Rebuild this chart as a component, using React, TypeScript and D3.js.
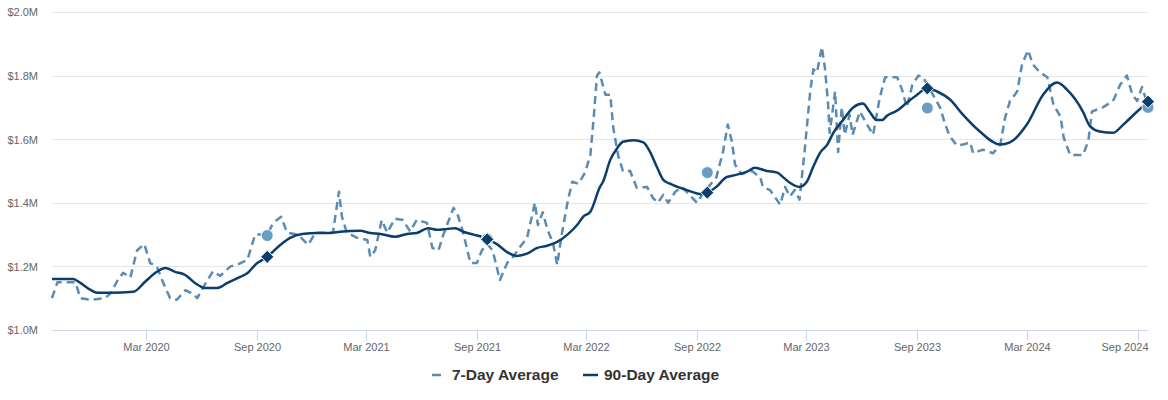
import React, { useEffect, useRef } from "react";
import * as d3 from "d3";

// 7-day rolling average (in $M)
const sevenDayDates = [
  "2019-09-27", "2019-10-06", "2019-10-21", "2019-11-05", "2019-11-13", "2019-11-30", "2019-12-24",
  "2020-01-02", "2020-01-15", "2020-01-23", "2020-02-04", "2020-02-15", "2020-02-27", "2020-03-08",
  "2020-03-19", "2020-03-29", "2020-04-10", "2020-04-21", "2020-05-05", "2020-05-17", "2020-05-25",
  "2020-06-04", "2020-06-20", "2020-07-02", "2020-07-19", "2020-07-30", "2020-08-16", "2020-08-29",
  "2020-09-18", "2020-09-28", "2020-10-11", "2020-10-21", "2020-11-08", "2020-11-25", "2020-12-07",
  "2021-01-05", "2021-01-15", "2021-01-20", "2021-01-28", "2021-02-14", "2021-03-03", "2021-03-08",
  "2021-03-16", "2021-03-27", "2021-04-05", "2021-04-18", "2021-05-01", "2021-05-13", "2021-05-24",
  "2021-06-10", "2021-06-19", "2021-06-29", "2021-07-07", "2021-07-24", "2021-07-30", "2021-08-09",
  "2021-08-21", "2021-09-01", "2021-09-09", "2021-09-18", "2021-09-27", "2021-10-09", "2021-10-21",
  "2021-10-31", "2021-11-11", "2021-11-23", "2021-12-06", "2021-12-11", "2021-12-19", "2021-12-27",
  "2022-01-05", "2022-01-12", "2022-01-20", "2022-01-30", "2022-02-06", "2022-02-16", "2022-02-27",
  "2022-03-08", "2022-03-13", "2022-03-19", "2022-03-23", "2022-04-02", "2022-04-10", "2022-04-15",
  "2022-04-23", "2022-05-01", "2022-05-13", "2022-05-24", "2022-06-10", "2022-06-20", "2022-06-28",
  "2022-07-07", "2022-07-15", "2022-07-27", "2022-08-07", "2022-08-17", "2022-09-01", "2022-09-11",
  "2022-10-03", "2022-10-14", "2022-10-22", "2022-10-29", "2022-11-03", "2022-11-14", "2022-12-01",
  "2022-12-15", "2022-12-19", "2022-12-31", "2023-01-17", "2023-01-25", "2023-02-02", "2023-02-10",
  "2023-02-18", "2023-02-27", "2023-03-08", "2023-03-13", "2023-03-19", "2023-03-27", "2023-04-01",
  "2023-04-06", "2023-04-09", "2023-04-18", "2023-04-23", "2023-04-29", "2023-05-04", "2023-05-12",
  "2023-05-17", "2023-05-29", "2023-06-10", "2023-06-20", "2023-07-01", "2023-07-10", "2023-07-30",
  "2023-08-07", "2023-08-15", "2023-08-24", "2023-09-03", "2023-09-11", "2023-10-09", "2023-10-17",
  "2023-10-25", "2023-11-06", "2023-11-16", "2023-11-28", "2023-12-03", "2023-12-19", "2024-01-05",
  "2024-01-17", "2024-01-25", "2024-02-02", "2024-02-14", "2024-02-22", "2024-03-03", "2024-03-11",
  "2024-03-23", "2024-04-04", "2024-04-14", "2024-04-26", "2024-05-01", "2024-05-12", "2024-06-02",
  "2024-06-11", "2024-06-17", "2024-07-05", "2024-07-22", "2024-08-03", "2024-08-14", "2024-08-23",
  "2024-08-31", "2024-09-08", "2024-09-18",
];
const sevenDayValues = [
  1.10, 1.15, 1.15, 1.15, 1.10, 1.095, 1.10,
  1.115, 1.16, 1.18, 1.165, 1.25, 1.27, 1.21,
  1.20, 1.15, 1.10, 1.095, 1.125, 1.115, 1.10,
  1.135, 1.185, 1.17, 1.20, 1.205, 1.22, 1.30,
  1.30, 1.337, 1.356, 1.306, 1.30, 1.268, 1.306,
  1.306, 1.435, 1.356, 1.306, 1.29, 1.283, 1.23,
  1.25, 1.346, 1.306, 1.35, 1.346, 1.31, 1.346,
  1.337, 1.258, 1.25, 1.299, 1.384, 1.368, 1.306,
  1.211, 1.211, 1.25, 1.27, 1.25, 1.157, 1.211,
  1.23, 1.26, 1.29, 1.40, 1.33, 1.37, 1.315,
  1.274, 1.205, 1.306, 1.41, 1.466, 1.46, 1.494,
  1.55, 1.655, 1.80, 1.81, 1.74, 1.74, 1.636,
  1.55, 1.50, 1.50, 1.447, 1.45, 1.415, 1.40,
  1.425, 1.40, 1.435, 1.45, 1.43, 1.40, 1.43,
  1.48, 1.56, 1.646, 1.59, 1.52, 1.49, 1.50,
  1.48, 1.45, 1.44, 1.394, 1.45, 1.42, 1.44,
  1.41, 1.575, 1.756, 1.82, 1.81, 1.89, 1.825,
  1.72, 1.62, 1.75, 1.56, 1.70, 1.614, 1.677,
  1.614, 1.687, 1.646, 1.614, 1.73, 1.795, 1.795,
  1.756, 1.70, 1.77, 1.80, 1.795, 1.70, 1.65,
  1.61, 1.58, 1.583, 1.59, 1.556, 1.567, 1.556,
  1.583, 1.668, 1.72, 1.75, 1.835, 1.88, 1.835,
  1.81, 1.795, 1.71, 1.67, 1.606, 1.55, 1.55,
  1.594, 1.687, 1.70, 1.72, 1.772, 1.80, 1.74,
  1.72, 1.764, 1.705,
];

// 90-day rolling average (in $M)
const ninetyDayDates = [
  "2019-09-27", "2019-11-01", "2019-11-13", "2019-11-30", "2019-12-11", "2020-01-02", "2020-02-09",
  "2020-02-28", "2020-03-19", "2020-04-02", "2020-04-18", "2020-05-05", "2020-05-21", "2020-06-07",
  "2020-06-27", "2020-07-14", "2020-08-04", "2020-08-17", "2020-08-29", "2020-09-18", "2020-10-10",
  "2020-10-26", "2020-11-15", "2020-12-10", "2020-12-31", "2021-01-17", "2021-02-19", "2021-03-08",
  "2021-03-25", "2021-04-18", "2021-05-08", "2021-05-24", "2021-06-12", "2021-06-27", "2021-07-14",
  "2021-07-27", "2021-08-09", "2021-08-26", "2021-09-06", "2021-09-18", "2021-10-04", "2021-10-21",
  "2021-11-06", "2021-11-23", "2021-12-10", "2021-12-26", "2022-01-12", "2022-01-29", "2022-02-14",
  "2022-02-24", "2022-03-08", "2022-03-24", "2022-03-29", "2022-04-10", "2022-04-22", "2022-05-01",
  "2022-05-18", "2022-06-04", "2022-06-15", "2022-06-27", "2022-07-07", "2022-07-18", "2022-08-15",
  "2022-09-06", "2022-09-18", "2022-10-03", "2022-10-19", "2022-10-29", "2022-11-23", "2022-12-06",
  "2022-12-26", "2023-01-12", "2023-01-22", "2023-02-02", "2023-02-18", "2023-03-02", "2023-03-12",
  "2023-03-24", "2023-04-05", "2023-04-15", "2023-05-01", "2023-05-18", "2023-06-03", "2023-06-14",
  "2023-06-26", "2023-07-05", "2023-07-13", "2023-07-30", "2023-08-15", "2023-09-01", "2023-09-18",
  "2023-10-04", "2023-10-26", "2023-11-16", "2023-12-14", "2024-01-17", "2024-02-02", "2024-03-01",
  "2024-03-28", "2024-04-20", "2024-05-07", "2024-06-02", "2024-06-14", "2024-06-30", "2024-07-22",
  "2024-08-08", "2024-08-31", "2024-09-18",
];
const ninetyDayValues = [
  1.16, 1.16, 1.148, 1.126, 1.117, 1.117, 1.12,
  1.151, 1.183, 1.195, 1.183, 1.173, 1.148, 1.132,
  1.132, 1.148, 1.167, 1.18, 1.205, 1.23, 1.268,
  1.29, 1.302, 1.305, 1.305, 1.309, 1.312, 1.305,
  1.302, 1.293, 1.302, 1.305, 1.32, 1.315, 1.318,
  1.32, 1.309, 1.30, 1.295, 1.285, 1.27, 1.245,
  1.233, 1.24, 1.258, 1.265, 1.277, 1.30, 1.33,
  1.356, 1.372, 1.45, 1.466, 1.535, 1.573, 1.592,
  1.597, 1.59, 1.56, 1.51, 1.472, 1.46, 1.44,
  1.428, 1.432, 1.45, 1.48, 1.485, 1.498, 1.51,
  1.50, 1.495, 1.48, 1.463, 1.45, 1.466, 1.51,
  1.557, 1.583, 1.62, 1.66, 1.70, 1.712, 1.687,
  1.66, 1.66, 1.674, 1.69, 1.715, 1.74, 1.76,
  1.75, 1.724, 1.677, 1.624, 1.583, 1.59, 1.646,
  1.74, 1.778, 1.755, 1.687, 1.64, 1.624, 1.62,
  1.646, 1.687, 1.718,
];

// same-date markers each year
const markerDates = ["2020-09-18", "2021-09-18", "2022-09-18", "2023-09-18", "2024-09-18"];
const markerSevenDay = [1.297, 1.286, 1.495, 1.698, 1.70];
const markerNinetyDay = [1.23, 1.285, 1.432, 1.76, 1.718];

const yTicks = [1.0, 1.2, 1.4, 1.6, 1.8, 2.0];

const LIGHT = "#5a8bb3";
const DARK = "#0b3d6d";
const FONT = "'Liberation Sans', Arial, sans-serif";

const App: React.FC = () => {
  const svgRef = useRef<SVGSVGElement | null>(null);

  useEffect(() => {
    if (!svgRef.current) return;
    const width = 1168;
    const height = 400;
    const margin = { left: 52, right: 20, top: 12, bottom: 70 };

    const parse = d3.timeParse("%Y-%m-%d");
    const seven = sevenDayDates.map((d, i) => ({ date: parse(d) as Date, value: sevenDayValues[i] }));
    const ninety = ninetyDayDates.map((d, i) => ({ date: parse(d) as Date, value: ninetyDayValues[i] }));
    const markers = markerDates.map((d, i) => ({
      date: parse(d) as Date,
      seven: markerSevenDay[i],
      ninety: markerNinetyDay[i],
    }));

    const svg = d3.select(svgRef.current);
    svg.selectAll("*").remove();

    const x = d3
      .scaleTime()
      .domain([parse("2019-09-27") as Date, parse("2024-09-18") as Date])
      .range([margin.left, width - margin.right]);
    const y = d3
      .scaleLinear()
      .domain([1.0, 2.0])
      .range([height - margin.bottom, margin.top]);

    // grid + y labels
    const grid = svg.append("g");
    yTicks.forEach((t) => {
      grid
        .append("line")
        .attr("x1", margin.left)
        .attr("x2", width - margin.right)
        .attr("y1", Math.round(y(t)) + 0.5)
        .attr("y2", Math.round(y(t)) + 0.5)
        .attr("stroke", t === 1.0 ? "#ccd6eb" : "#e6e6e6")
        .attr("stroke-width", 1);
      grid
        .append("text")
        .attr("x", 38)
        .attr("y", y(t))
        .attr("dy", "0.4em")
        .attr("text-anchor", "end")
        .attr("font-family", FONT)
        .attr("font-size", 11)
        .attr("fill", "#666")
        .text(`$${t.toFixed(1)}M`);
    });

    // x ticks: Mar and Sep
    const xTicks = d3
      .timeMonths(x.domain()[0], x.domain()[1])
      .filter((d) => d.getMonth() === 2 || d.getMonth() === 8);
    const fmt = d3.timeFormat("%b %Y");
    const axisY = Math.round(y(1.0)) + 0.5;
    xTicks.forEach((t) => {
      const px = Math.round(x(t)) + 0.5;
      grid
        .append("line")
        .attr("x1", px)
        .attr("x2", px)
        .attr("y1", axisY)
        .attr("y2", axisY + 10)
        .attr("stroke", "#ccd6eb");
      const label = fmt(t);
      const halfW = 24;
      const cx = Math.min(px, width - margin.right - halfW + 1);
      grid
        .append("text")
        .attr("x", cx)
        .attr("y", 351)
        .attr("text-anchor", "middle")
        .attr("font-family", FONT)
        .attr("font-size", 11)
        .attr("fill", "#666")
        .text(label);
    });

    const line7 = d3
      .line<{ date: Date; value: number }>()
      .x((d) => x(d.date))
      .y((d) => y(d.value))
      .curve(d3.curveLinear);
    const line90 = d3
      .line<{ date: Date; value: number }>()
      .x((d) => x(d.date))
      .y((d) => y(d.value))
      .curve(d3.curveMonotoneX);

    svg
      .append("path")
      .datum(seven)
      .attr("d", line7)
      .attr("fill", "none")
      .attr("stroke", LIGHT)
      .attr("stroke-width", 2.5)
      .attr("stroke-dasharray", "8,5")
      .attr("stroke-linejoin", "round");

    svg
      .append("path")
      .datum(ninety)
      .attr("d", line90)
      .attr("fill", "none")
      .attr("stroke", DARK)
      .attr("stroke-width", 2.5)
      .attr("stroke-linejoin", "round");

    // markers
    svg
      .selectAll("circle.m7")
      .data(markers)
      .enter()
      .append("circle")
      .attr("class", "m7")
      .attr("cx", (d) => x(d.date))
      .attr("cy", (d) => y(d.seven))
      .attr("r", 6)
      .attr("fill", "#6b9cc4")
      .attr("stroke", "#fff")
      .attr("stroke-width", 1);

    const diamond = d3.symbol().type(d3.symbolDiamond2).size(110);
    svg
      .selectAll("path.m90")
      .data(markers)
      .enter()
      .append("path")
      .attr("class", "m90")
      .attr("d", diamond as any)
      .attr("transform", (d) => `translate(${x(d.date)},${y(d.ninety)})`)
      .attr("fill", DARK)
      .attr("stroke", "#fff")
      .attr("stroke-width", 1);

    // legend
    const legend = svg.append("g").attr("font-family", FONT).attr("font-size", 15.5).attr("font-weight", "bold");
    const ly = 375;
    legend
      .append("line")
      .attr("x1", 432)
      .attr("x2", 441)
      .attr("y1", ly)
      .attr("y2", ly)
      .attr("stroke", LIGHT)
      .attr("stroke-width", 2.5);
    legend
      .append("text")
      .attr("x", 452)
      .attr("y", ly)
      .attr("dy", "0.35em")
      .attr("fill", "#333")
      .text("7-Day Average");
    legend
      .append("line")
      .attr("x1", 583)
      .attr("x2", 598)
      .attr("y1", ly)
      .attr("y2", ly)
      .attr("stroke", DARK)
      .attr("stroke-width", 2.5);
    legend
      .append("text")
      .attr("x", 604)
      .attr("y", ly)
      .attr("dy", "0.35em")
      .attr("fill", "#333")
      .text("90-Day Average");
  }, []);

  return (
    <svg
      ref={svgRef}
      width={1168}
      height={400}
      style={{ position: "absolute", left: 0, top: 0, background: "#fff" }}
    />
  );
};

export default App;
